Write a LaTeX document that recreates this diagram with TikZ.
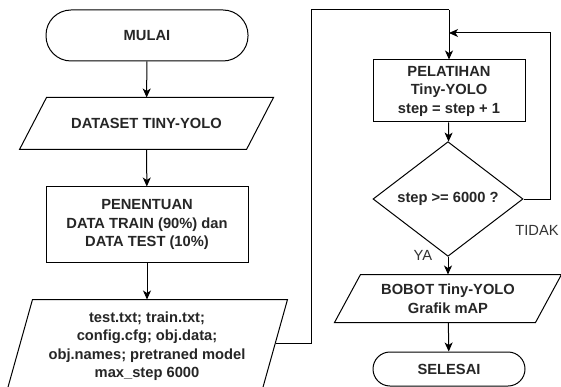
\documentclass[tikz,border=0pt]{standalone}
\usepackage{fontspec}
\setmainfont{Liberation Sans}
\usetikzlibrary{shapes.geometric,arrows.meta}
\begin{document}
\begin{tikzpicture}[x=1pt,y=-1pt,
  base/.style={draw=black, line width=1pt, font=\fontsize{14.7}{18.5}\selectfont\bfseries, align=center, inner sep=0pt, text=black!85},
  term/.style={base, rectangle, rounded corners=#1},
  proc/.style={base, rectangle},
  io/.style={base, draw=none, rectangle},
  dec/.style={base, diamond},
  edge/.style={line width=1pt, line join=miter},
  conn/.style={line width=1pt, -{Stealth[length=9pt,width=8pt,inset=2.5pt]}},
  wire/.style={line width=1pt},
  lbl/.style={font=\fontsize{14.7}{18.5}\selectfont, inner sep=0pt, text=black!80}
]
\useasboundingbox (0,0) rectangle (561,387);
\fill[white] (0,0) rectangle (561,387);
\clip (0,0) rectangle (561,387);

\node[term=25pt, minimum width=202pt, minimum height=51pt] (mulai) at (147,35.5) {MULAI};
\node[io, minimum width=253pt, minimum height=51pt] (data) at (146.5,123.5) {DATASET TINY-YOLO};
\draw[edge] ([xshift=27pt]data.north west) -- (data.north east) -- ([xshift=-27pt]data.south east) -- (data.south west) -- cycle;
\node[proc, minimum width=202pt, minimum height=75pt] (tentu) at (147,224.5) {PENENTUAN\\DATA TRAIN (90\%) dan\\DATA TEST (10\%)};
\node[io, minimum width=280pt, minimum height=92pt] (pp) at (147,346) {test.txt; train.txt;\\config.cfg; obj.data;\\obj.names; pretraned model\\max\_step 6000};
\draw[edge] ([xshift=26pt]pp.north west) -- (pp.north east) -- ([xshift=-26pt]pp.south east) -- (pp.south west) -- cycle;

\node[proc, minimum width=152pt, minimum height=62pt] (latih) at (449,91) {PELATIHAN\\Tiny-YOLO\\step = step + 1};
\node[dec, minimum width=150pt, minimum height=98pt] (dia) at (448,199) {step >= 6000 ?};
\node[io, minimum width=226pt, minimum height=47pt] (bobot) at (448,298.5) {BOBOT Tiny-YOLO\\Grafik mAP};
\draw[edge] ([xshift=26pt]bobot.north west) -- (bobot.north east) -- ([xshift=-26pt]bobot.south east) -- (bobot.south west) -- cycle;
\node[term=17pt, minimum width=152pt, minimum height=34pt] (selesai) at (449,369) {SELESAI};

\node[lbl] (tidak) at (537,230) {TIDAK};
\node[lbl] (ya) at (423,255) {YA};

\coordinate (pe) at ([xshift=-12pt,yshift=3pt]pp.east);
\coordinate (t1) at (311,10);
\coordinate (t2) at (449,10);
\coordinate (l1) at (550,33);
\coordinate (m1) at (449,33);

\draw[conn] (mulai) -- (data);
\draw[conn] (data) -- (tentu);
\draw[conn] (tentu) -- (pp);
\draw[wire] (pe) -| (t1) -- (t2);
\draw[conn] (t2) -- (latih.north);
\draw[conn] (latih) -- (dia);
\draw[conn] (dia.south) -- (bobot.north);
\draw[conn] (bobot) -- (selesai);
\draw[conn] (dia.east) -| (l1) -- (m1);
\end{tikzpicture}
\end{document}
